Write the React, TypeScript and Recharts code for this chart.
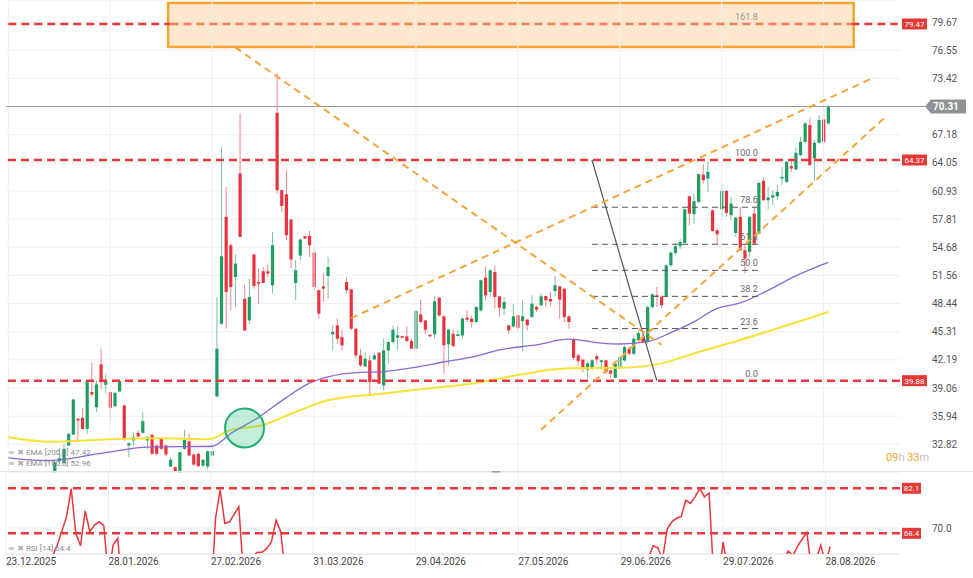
import { ComposedChart, Bar, Line, XAxis, YAxis, CartesianGrid, ReferenceLine, ReferenceArea, ReferenceDot } from "recharts";

// daily candles, first one sits in slot 10, slots after the last candle are empty space on the right
const FIRST_SLOT = 10;
const SLOTS = 193;

const OPEN = [
  29.72, 30.94, 30.72, 32.68, 33.90, 35.65, 35.76, 34.53, 38.61, 36.94,
  41.68, 39.42, 38.61, 37.05, 38.68, 37.13, 32.68, 33.24, 34.09, 34.09,
  33.24, 33.87, 32.68, 33.42, 32.68, 30.35, 30.28, 29.72, 32.31, 33.13,
  31.68, 31.76, 30.46, 30.35, 31.57, 38.13, 46.20, 58.06, 54.91, 51.39,
  62.87, 48.98, 46.57, 53.87, 50.83, 52.02, 52.02, 50.46, 69.61, 61.02,
  60.57, 57.76, 50.72, 53.76, 55.91, 55.95, 54.09, 49.91, 50.35, 51.50,
  45.02, 46.02, 44.72, 50.83, 50.02, 45.65, 42.68, 41.46, 42.13, 42.24,
  42.98, 39.35, 43.24, 44.17, 44.65, 44.83, 44.80, 44.28, 43.42, 47.24,
  46.57, 44.98, 45.02, 49.09, 47.02, 43.91, 45.09, 44.83, 44.90, 46.87,
  46.76, 46.39, 47.68, 51.31, 49.72, 51.94, 49.24, 47.87, 46.02, 45.90,
  47.13, 46.50, 46.65, 46.94, 48.05, 48.24, 49.28, 48.94, 49.83, 50.35,
  50.09, 47.02, 44.42, 42.68, 42.20, 41.10, 41.20, 42.60, 41.94, 42.13,
  41.02, 40.20, 41.39, 42.13, 43.42, 42.87, 44.35, 44.72, 44.17, 48.05,
  49.35, 49.17, 49.24, 52.68, 54.05, 54.80, 55.17, 60.35, 58.35, 59.72,
  62.76, 62.31, 58.79, 56.57, 58.90, 60.94, 58.24, 56.28, 58.06, 54.35,
  54.17, 58.43, 56.20, 62.06, 59.91, 60.20, 60.35, 62.32, 61.94, 63.69,
  63.32, 64.91, 66.39, 68.24, 64.54, 66.28, 68.87, 68.43,
];
const HIGH = [
  30.90, 32.42, 32.87, 34.05, 37.87, 35.70, 36.87, 39.90, 41.87, 39.90,
  43.42, 40.65, 38.70, 38.60, 39.90, 37.20, 33.05, 34.09, 34.35, 36.39,
  33.70, 33.98, 32.80, 33.60, 32.80, 31.39, 30.35, 32.00, 34.42, 33.98,
  31.80, 31.94, 31.20, 32.13, 32.87, 49.17, 65.83, 61.39, 55.10, 53.87,
  69.54, 50.54, 51.20, 53.98, 52.32, 52.50, 52.87, 56.39, 74.03, 61.10,
  63.24, 57.80, 53.24, 55.65, 55.95, 56.50, 54.54, 50.00, 51.76, 53.61,
  46.02, 46.76, 45.46, 51.39, 50.10, 45.76, 43.42, 43.05, 42.68, 43.00,
  43.05, 44.54, 44.35, 46.02, 45.90, 44.90, 45.90, 44.54, 47.69, 48.87,
  46.60, 45.00, 49.24, 49.17, 47.10, 45.65, 45.54, 45.46, 46.94, 47.69,
  47.13, 48.10, 51.09, 52.57, 52.20, 52.68, 49.30, 49.17, 46.10, 48.35,
  47.20, 48.80, 46.76, 49.35, 48.24, 49.61, 49.30, 49.72, 51.46, 50.40,
  50.10, 47.10, 44.65, 42.87, 42.30, 42.00, 42.30, 42.87, 42.20, 42.20,
  41.10, 41.80, 42.70, 43.80, 43.70, 44.90, 45.40, 44.90, 48.20, 49.60,
  50.28, 49.30, 52.80, 54.20, 55.20, 55.60, 59.00, 60.40, 60.65, 62.87,
  63.90, 64.17, 58.87, 56.76, 61.76, 61.00, 60.28, 58.05, 59.17, 55.09,
  58.13, 59.17, 61.94, 62.43, 61.39, 61.02, 61.57, 63.61, 64.30, 64.54,
  65.76, 66.95, 68.61, 68.98, 66.57, 69.35, 70.09, 70.50,
];
const LOW = [
  29.60, 30.65, 30.65, 32.61, 33.85, 33.13, 34.46, 33.98, 38.05, 36.39,
  38.98, 38.42, 35.46, 36.90, 38.60, 33.20, 31.39, 32.68, 33.61, 34.00,
  32.24, 31.68, 31.60, 32.20, 31.46, 30.28, 29.70, 29.60, 32.20, 31.46,
  30.40, 30.30, 30.30, 30.09, 31.46, 38.00, 46.02, 45.65, 47.69, 48.06,
  55.80, 45.40, 46.20, 50.09, 48.43, 50.70, 51.39, 49.54, 60.65, 58.61,
  55.46, 52.39, 48.80, 53.24, 55.60, 53.61, 49.91, 46.76, 48.61, 48.98,
  43.24, 43.98, 43.24, 49.54, 45.46, 42.31, 41.39, 41.39, 38.24, 42.20,
  39.50, 38.79, 41.76, 43.98, 43.24, 44.60, 44.17, 43.40, 43.40, 46.20,
  45.09, 44.70, 44.54, 46.94, 40.65, 41.57, 43.61, 44.80, 44.54, 46.39,
  45.76, 46.30, 47.50, 48.79, 49.17, 47.87, 46.94, 47.13, 45.02, 45.76,
  45.46, 43.17, 45.46, 46.90, 47.50, 48.13, 48.05, 48.13, 49.24, 46.76,
  46.39, 45.65, 42.13, 41.57, 40.83, 40.10, 41.00, 41.76, 41.09, 40.60,
  40.20, 40.10, 41.20, 42.00, 42.70, 42.70, 44.20, 44.00, 44.00, 47.90,
  48.05, 47.90, 49.10, 52.50, 53.80, 54.50, 55.00, 57.13, 57.31, 59.60,
  61.76, 60.83, 56.39, 55.09, 58.05, 58.05, 57.68, 55.83, 54.30, 51.76,
  53.61, 54.91, 56.13, 59.83, 58.87, 59.35, 59.91, 61.57, 61.80, 63.06,
  63.24, 64.80, 66.20, 63.80, 62.06, 66.20, 66.13, 68.30,
];
const CLOSE = [
  30.83, 31.27, 32.31, 33.98, 37.79, 35.46, 34.53, 39.83, 38.35, 39.46,
  39.98, 39.79, 36.87, 38.53, 39.83, 33.35, 32.94, 33.61, 33.68, 35.39,
  33.61, 31.76, 31.76, 32.31, 31.68, 31.09, 29.83, 31.94, 33.31, 31.57,
  30.57, 30.39, 31.09, 32.05, 32.05, 43.42, 53.69, 49.72, 50.28, 52.87,
  55.83, 45.46, 49.17, 50.39, 50.65, 50.72, 51.76, 54.91, 61.02, 59.28,
  56.02, 53.32, 52.13, 55.54, 55.65, 54.91, 50.28, 47.32, 50.09, 52.50,
  45.28, 44.54, 43.80, 49.91, 45.65, 42.68, 41.57, 42.31, 39.72, 42.68,
  39.54, 43.24, 44.17, 45.54, 44.91, 44.65, 44.28, 43.42, 47.61, 46.39,
  45.54, 44.80, 48.69, 47.13, 43.80, 45.54, 43.72, 45.02, 46.76, 46.65,
  46.39, 48.06, 51.02, 49.35, 52.13, 49.17, 47.98, 48.61, 45.46, 47.02,
  45.76, 47.02, 46.02, 48.43, 47.76, 49.24, 48.80, 48.68, 50.46, 48.87,
  46.94, 46.39, 42.42, 42.05, 41.40, 41.80, 42.13, 42.24, 42.13, 40.83,
  40.65, 41.76, 42.50, 43.61, 42.87, 44.54, 45.17, 44.17, 48.05, 49.46,
  49.17, 48.24, 52.68, 54.09, 54.80, 55.28, 58.90, 58.42, 59.80, 62.80,
  62.13, 63.05, 56.50, 56.13, 60.94, 58.50, 59.54, 57.98, 54.35, 53.43,
  58.06, 55.09, 61.83, 59.91, 60.20, 60.46, 60.83, 62.50, 64.17, 63.43,
  65.17, 66.39, 68.43, 63.80, 66.28, 68.80, 66.39, 70.31,
];
const RSI = [
  61.5, 64.85, 69.0, 73.46, 81.9, 68.4, 64.6, 75.2, 68.9, 70.9,
  71.9, 70.7, 55.0, 64.8, 66.9, 50.0, 46.0, 48.0, 48.5, 52.0,
  49.0, 45.0, 45.0, 46.5, 45.0, 43.5, 41.5, 46.0, 48.5, 45.0,
  43.0, 42.5, 44.0, 47.0, 47.5, 73.0, 81.6, 71.4, 71.9, 74.2,
  76.5, 56.0, 58.0, 61.5, 62.6, 62.6, 63.8, 65.8, 72.4, 68.9,
  56.0, 53.0, 51.0, 56.0, 56.0, 55.0, 50.0, 47.5, 50.0, 53.0,
  45.0, 44.5, 43.5, 51.0, 46.0, 43.0, 42.0, 43.0, 40.5, 44.0,
  40.5, 45.5, 47.0, 49.0, 48.0, 47.5, 47.0, 46.0, 51.5, 49.5,
  48.0, 47.0, 52.5, 50.0, 46.0, 48.5, 46.5, 48.0, 50.5, 50.0,
  49.5, 52.0, 56.0, 52.5, 56.0, 51.5, 49.5, 50.5, 46.5, 49.0,
  47.0, 49.0, 48.0, 50.5, 50.0, 51.5, 51.0, 50.5, 53.0, 50.5,
  48.5, 47.5, 42.0, 41.5, 40.5, 41.5, 43.0, 43.5, 43.0, 41.0,
  40.5, 43.0, 45.0, 47.5, 46.5, 49.5, 51.0, 50.0, 61.0, 64.6,
  64.0, 60.5, 69.7, 71.9, 72.97, 73.46, 78.5, 77.5, 79.5, 82.1,
  79.5, 80.6, 55.0, 54.0, 65.8, 57.0, 59.5, 56.0, 52.0, 50.5,
  56.5, 52.5, 59.5, 56.0, 56.5, 57.0, 57.5, 60.0, 63.0, 61.5,
  64.5, 66.6, 68.7, 57.0, 60.5, 64.8, 59.0, 64.4,
];

// EMA readings at the slots where they were measured
const EMA100_AT = [0, 8, 20, 30, 44, 48, 54, 60, 65, 69, 76, 80, 87, 94, 101, 106, 114, 121, 128, 132, 138, 143, 148, 153, 158, 164, 170, 177];
const EMA100 = [31.3, 31.0, 31.8, 32.5, 32.6, 34.0, 35.8, 38.0, 39.6, 40.3, 40.8, 40.85, 41.3, 41.95, 42.6, 43.3, 43.85, 44.5, 44.05, 43.95, 44.2, 45.2, 46.4, 47.9, 48.5, 49.9, 51.5, 53.0];
const EMA200_AT = [0, 9, 22, 32, 43, 48, 55, 62, 69, 80, 91, 101, 110, 121, 132, 141, 148, 158, 177];
const EMA200 = [33.6, 33.1, 33.37, 33.48, 33.37, 34.4, 34.96, 36.4, 37.7, 38.4, 39.03, 39.63, 40.5, 41.25, 41.3, 41.8, 42.9, 44.4, 47.5];

const DATE_TICKS = [0, 22, 44, 66, 88, 110, 132, 154, 176];
const DATE_LABELS = ["23.12.2025", "28.01.2026", "27.02.2026", "31.03.2026", "29.04.2026", "27.05.2026", "29.06.2026", "29.07.2026", "28.08.2026"];
const PRICE_TICKS = [29.69, 32.82, 35.94, 39.06, 42.19, 45.31, 48.44, 51.56, 54.68, 57.81, 60.93, 64.05, 67.18, 73.42, 76.55, 79.67];
const RED_LEVELS = [79.47, 64.37, 39.88];
const LAST_PRICE = 70.31;

// target box drawn around the 161.8 extension
const BOX_X = [35, 182];
const BOX_Y = [76.91, 81.8];

const FIB_LOW = 39.88;
const FIB_HIGH = 64.37;
const FIB_RATIOS = [0, 23.6, 38.2, 50, 61.8, 78.6, 100, 161.8];
const FIB_LABELS = ["0.0", "23.6", "38.2", "50.0", "61.8", "78.6", "100.0", "161.8"];

const RSI_LEVELS = [82.1, 68.4];

const GREEN = "#1f9e62";
const RED = "#e8343f";
const LEVEL_RED = "#e8383d";
const ORANGE = "#f7a53b";
const FONT = "Roboto, sans-serif";

const knot = (at: number[], vals: number[], i: number) => {
  const k = at.indexOf(i);
  return k >= 0 ? vals[k] : null;
};

const rows = Array.from({ length: SLOTS }, (_, i) => {
  const k = i - FIRST_SLOT;
  const has = k >= 0 && k < OPEN.length;
  return {
    i,
    o: has ? OPEN[k] : null,
    h: has ? HIGH[k] : null,
    l: has ? LOW[k] : null,
    c: has ? CLOSE[k] : null,
    range: has ? [LOW[k], HIGH[k]] : null,
    e100: knot(EMA100_AT, EMA100, i),
    e200: knot(EMA200_AT, EMA200, i),
    rsi: has ? RSI[k] : null,
  };
});

const Candle = (props: any) => {
  const { x, y, width, height, payload } = props;
  if (!payload || payload.o == null || x == null || isNaN(y)) return <g />;
  const { o, h, l, c } = payload;
  const top = Math.min(y, y + height);
  const span = Math.abs(height);
  const py = (v: number) => (h === l ? top : top + ((h - v) / (h - l)) * span);
  const cx = x + width / 2;
  const col = c >= o ? GREEN : RED;
  const bTop = py(Math.max(o, c));
  const bBot = py(Math.min(o, c));
  return (
    <g>
      <line x1={cx} x2={cx} y1={top} y2={top + span} stroke={col} strokeOpacity={0.6} strokeWidth={1} />
      <rect x={cx - 1.6} y={bTop} width={3.2} height={Math.max(1, bBot - bTop)} fill={col} />
    </g>
  );
};

const PriceTick = (props: any) => {
  const { x, y, payload } = props;
  return (
    <text x={x} y={Math.min(y, 467)} dy={3.5} fontSize={10} fill="#555" fontFamily={FONT}>
      {payload.value.toFixed(2)}
    </text>
  );
};

const RsiTick = (props: any) => {
  const { x, y, payload } = props;
  return (
    <text x={x} y={y} dy={3.5} fontSize={10} fill="#555" fontFamily={FONT}>
      {payload.value.toFixed(1)}
    </text>
  );
};

const DateTick = (props: any) => {
  const { x, y, payload } = props;
  return (
    <text x={x} y={y} dy={11} fontSize={10} fill="#444" fontFamily={FONT}>
      {DATE_LABELS[DATE_TICKS.indexOf(payload.value)]}
    </text>
  );
};

const redTag = (text: string, w: number) => (props: any) => {
  const vb = props.viewBox || {};
  const x = vb.x + vb.width + 2;
  const y = vb.y;
  return (
    <g>
      <rect x={x} y={y - 5.5} width={w} height={11} fill="#e53935" />
      <text x={x + w / 2} y={y} dy={3} textAnchor="middle" fontSize={8} fill="#fff" fontFamily={FONT}>{text}</text>
    </g>
  );
};

const priceTag = (props: any) => {
  const vb = props.viewBox || {};
  const x0 = vb.x + vb.width;
  const y = vb.y;
  const tip = x0 + 25;
  return (
    <g>
      <line x1={x0} x2={tip} y1={y} y2={y} stroke="#9a9a9a" strokeWidth={1} />
      <polygon points={`${tip},${y} ${tip + 6},${y - 7} ${tip + 41},${y - 7} ${tip + 41},${y + 7} ${tip + 6},${y + 7}`} fill="#8d9396" />
      <text x={tip + 8} y={y} dy={3.5} fontSize={10} fontWeight="bold" fill="#fff" fontFamily={FONT}>{LAST_PRICE.toFixed(2)}</text>
    </g>
  );
};

const fibLabel = (text: string, color: string) => (props: any) => {
  const vb = props.viewBox || {};
  return (
    <text x={vb.x + vb.width - 1} y={vb.y - 4} textAnchor="end" fontSize={9} fill={color} fontFamily={FONT}>{text}</text>
  );
};

const FIB_FROM = 126;
const FIB_TO = 162;

export default function App() {
  const top = RED_LEVELS[0];
  return (
    <div style={{ position: "absolute", left: 0, top: 0, width: 973, height: 578, background: "#fff", overflow: "hidden", fontFamily: FONT }}>
      <div style={{ position: "absolute", left: 0, top: 0 }}>
        <ComposedChart width={973} height={473} data={rows} margin={{ top: 0, right: 0, bottom: 0, left: 6 }}>
          <CartesianGrid vertical={false} stroke="#f0f0f0" />
          <XAxis dataKey="i" type="category" hide />
          <YAxis
            orientation="right"
            width={73}
            domain={[29.63, 82.13]}
            ticks={PRICE_TICKS}
            allowDataOverflow
            tickLine={false}
            axisLine={false}
            tickSize={0}
            tickMargin={32}
            tick={<PriceTick />}
          />
          {DATE_TICKS.map((t) => (
            <ReferenceLine key={"v" + t} x={t} stroke="#f0f0f0" />
          ))}
          <Line dataKey="e200" type="monotone" connectNulls stroke="#f6e23a" strokeWidth={2} dot={false} activeDot={false} isAnimationActive={false} />
          <Line dataKey="e100" type="monotone" connectNulls stroke="#8b67d4" strokeWidth={1.3} dot={false} activeDot={false} isAnimationActive={false} />
          <Bar dataKey="range" shape={<Candle />} isAnimationActive={false} />
          {FIB_RATIOS.map((r, k) => {
            const v = FIB_LOW + (r / 100) * (FIB_HIGH - FIB_LOW);
            const hidden = r === 0 || r === 100 || r === 161.8;
            return (
              <ReferenceLine
                key={"f" + r}
                segment={[{ x: FIB_FROM, y: v }, { x: FIB_TO, y: v }]}
                stroke={hidden ? "none" : "#555"}
                strokeDasharray="6 4"
                strokeWidth={1}
                label={{ content: fibLabel(FIB_LABELS[k], r === 161.8 ? "#9a9a9a" : "#666") }}
              />
            );
          })}
          <ReferenceLine segment={[{ x: FIB_FROM, y: FIB_HIGH }, { x: 140, y: FIB_LOW }]} stroke="#555" strokeWidth={1.2} />
          <ReferenceArea x1={BOX_X[0]} x2={BOX_X[1]} y1={BOX_Y[0]} y2={BOX_Y[1]} fill="#f9a03f" fillOpacity={0.25} stroke="#f7a530" strokeWidth={2.5} />
          {/* the top level runs under the box, so its middle part is tinted */}
          <ReferenceLine y={top} stroke="none" label={{ content: redTag(top.toFixed(2), 25) }} />
          <ReferenceLine segment={[{ x: 0, y: top }, { x: BOX_X[0], y: top }]} stroke={LEVEL_RED} strokeWidth={2.5} strokeDasharray="8 5" />
          <ReferenceLine segment={[{ x: BOX_X[0], y: top }, { x: BOX_X[1], y: top }]} stroke="#f3805e" strokeWidth={2.5} strokeDasharray="8 5" />
          <ReferenceLine segment={[{ x: BOX_X[1], y: top }, { x: SLOTS - 1, y: top }]} stroke={LEVEL_RED} strokeWidth={2.5} strokeDasharray="8 5" />
          {RED_LEVELS.slice(1).map((v) => (
            <ReferenceLine key={"r" + v} y={v} stroke={LEVEL_RED} strokeWidth={2.5} strokeDasharray="8 5" label={{ content: redTag(v.toFixed(2), 25) }} />
          ))}
          <ReferenceLine y={LAST_PRICE} stroke="#9a9a9a" strokeWidth={1} label={{ content: priceTag }} />
          <ReferenceLine segment={[{ x: 49, y: 76.87 }, { x: 141, y: 43.87 }]} stroke={ORANGE} strokeWidth={2} strokeDasharray="7 5" />
          <ReferenceLine segment={[{ x: 74, y: 46.81 }, { x: 187, y: 73.56 }]} stroke={ORANGE} strokeWidth={2} strokeDasharray="7 5" />
          <ReferenceLine segment={[{ x: 115, y: 34.43 }, { x: 189, y: 68.98 }]} stroke={ORANGE} strokeWidth={2} strokeDasharray="7 5" />
          <ReferenceDot x={51} y={34.63} r={19.5} fill="#3cc68a" fillOpacity={0.3} stroke="#1fae6e" strokeWidth={2} />
        </ComposedChart>
      </div>

      <div style={{ position: "absolute", left: 0, top: 471, width: 973, height: 1, background: "#e2e2e2" }} />
      <div style={{ position: "absolute", left: 492, top: 470.5, width: 8, height: 2, background: "#9aa3ab" }} />

      <div style={{ position: "absolute", left: 0, top: 472 }}>
        <ComposedChart width={973} height={106} data={rows} margin={{ top: 0, right: 0, bottom: 0, left: 6 }}>
          <CartesianGrid vertical={false} stroke="#f0f0f0" />
          <XAxis
            dataKey="i"
            type="category"
            ticks={DATE_TICKS}
            interval={0}
            tick={<DateTick />}
            tickLine={false}
            axisLine={false}
            tickSize={0}
            tickMargin={0}
            height={24}
          />
          <YAxis
            orientation="right"
            width={73}
            domain={[62.1, 87.06]}
            ticks={[70]}
            allowDataOverflow
            tickLine={false}
            axisLine={false}
            tickSize={0}
            tickMargin={32}
            tick={<RsiTick />}
          />
          {DATE_TICKS.map((t) => (
            <ReferenceLine key={"v" + t} x={t} stroke="#f0f0f0" />
          ))}
          <ReferenceLine y={62.1} stroke="#e6e6e6" />
          {RSI_LEVELS.map((v) => (
            <ReferenceLine key={"l" + v} y={v} stroke={LEVEL_RED} strokeWidth={2.5} strokeDasharray="8 5" label={{ content: redTag(v.toFixed(1), 19) }} />
          ))}
          <Line dataKey="rsi" type="linear" stroke={LEVEL_RED} strokeWidth={1.5} dot={false} activeDot={false} isAnimationActive={false} />
        </ComposedChart>
      </div>

      <div style={{ position: "absolute", left: 8, top: 447, fontSize: 8, color: "#8a8a8a", lineHeight: "11px" }}>
        <div><span style={{ fontFamily: "DejaVu Sans", color: "#aaa" }}>≡ ✖</span> EMA [200,0] 47.42</div>
        <div><span style={{ fontFamily: "DejaVu Sans", color: "#aaa" }}>≡ ✖</span> EMA [100,0] 52.96</div>
      </div>
      <div style={{ position: "absolute", left: 8, top: 543, fontSize: 8, color: "#8a8a8a", lineHeight: "11px" }}>
        <span style={{ fontFamily: "DejaVu Sans", color: "#aaa" }}>≡ ✖</span> RSI [14] 64.4
      </div>
      <div style={{ position: "absolute", left: 886, top: 451, fontSize: 11, lineHeight: "14px" }}>
        <span style={{ color: "#f5a623" }}>09</span>
        <span style={{ color: "#c4c4c4" }}>h </span>
        <span style={{ color: "#f5a623" }}>33</span>
        <span style={{ color: "#c4c4c4" }}>m</span>
      </div>
    </div>
  );
}
